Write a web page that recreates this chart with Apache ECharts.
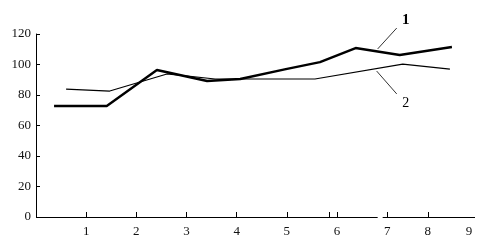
<!DOCTYPE html>
<html><head><meta charset="utf-8">
<script src="https://cdn.jsdelivr.net/npm/echarts@6/dist/echarts.min.js"></script>
<style>html,body{margin:0;padding:0;background:#fff}#c{width:484px;height:244px}</style>
</head><body><div id="c"></div>
<script>
// Curve 1 (thick)
const s1x = [0.36, 1.41, 2.41, 3.41, 4.07, 4.98, 5.66, 6.37, 7.25, 8.29];
const s1y = [72.8, 72.8, 96.4, 89.2, 90.5, 97.0, 101.6, 110.8, 106.2, 111.5];
// Curve 2 (thin)
const s2x = [0.60, 1.47, 2.61, 3.57, 5.56, 7.31, 8.25];
const s2y = [83.9, 82.6, 93.8, 90.5, 90.5, 100.3, 97.0];
// axis labels
const yTicks = [0, 20, 40, 60, 80, 100, 120];
const xLabels = ['1','2','3','4','5','6','7','8','9'];
const xLabelPos = [1, 2, 3, 4, 5, 6, 7, 7.81, 8.63];
const xTickPos = [1, 2, 3, 4, 5, 5.84, 6, 7, 7.81];
// curve annotations (data coordinates)
const ann1 = {text: '1', at: [7.37, 129.2], from: [6.81, 110.2], to: [7.19, 123.9], bold: true, size: 15};
const ann2 = {text: '2', at: [7.37, 74.8], from: [6.79, 95.7], to: [7.19, 80.7], bold: false, size: 14};

const font = '"Liberation Serif", "DejaVu Serif", serif';
const pts = (xs, ys) => xs.map((x, i) => [x, ys[i]]);

const chart = echarts.init(document.getElementById('c'), null, {renderer: 'canvas'});
chart.setOption({
  animation: false,
  backgroundColor: '#fff',
  grid: {left: 36, right: 9, top: 34, bottom: 27, containLabel: false},
  xAxis: {
    type: 'value', min: 0, max: 8.75,
    axisLine: {show: false},
    splitLine: {show: false},
    axisTick: {show: true, inside: true, length: 5, customValues: xTickPos, lineStyle: {color: '#000', width: 1}},
    axisLabel: {
      customValues: xLabelPos, margin: 8,
      fontFamily: font, fontSize: 13, color: '#111',
      formatter: v => { const i = xLabelPos.findIndex(p => Math.abs(p - v) < 1e-6); return i >= 0 ? xLabels[i] : ''; }
    }
  },
  yAxis: {
    type: 'value', min: 0, max: 120, interval: 20,
    axisLine: {show: true, lineStyle: {color: '#000', width: 1}},
    splitLine: {show: false},
    axisTick: {show: true, inside: true, length: 4, lineStyle: {color: '#000'}},
    axisLabel: {margin: 5, fontFamily: font, fontSize: 13, color: '#111',
      formatter: v => yTicks.includes(v) ? String(v) : ''}
  },
  series: [
    {
      type: 'line', data: pts(s1x, s1y), symbol: 'none', clip: false,
      lineStyle: {color: '#000', width: 2.4},
      markLine: {
        silent: true, symbol: 'none', label: {show: false},
        lineStyle: {color: '#000', width: 1, type: 'solid'},
        data: [
          [{coord: [0, 0]}, {coord: [6.81, 0]}],
          [{coord: [6.91, 0]}, {coord: [8.75, 0]}]
        ]
      }
    },
    {
      type: 'line', data: pts(s2x, s2y), symbol: 'none', clip: false,
      lineStyle: {color: '#000', width: 1.2}
    }
  ]
});

// annotations placed through the chart's own coordinate conversion
const g = [];
[ann1, ann2].forEach(a => {
  const p1 = chart.convertToPixel({gridIndex: 0}, a.from);
  const p2 = chart.convertToPixel({gridIndex: 0}, a.to);
  const pt = chart.convertToPixel({gridIndex: 0}, a.at);
  g.push({type: 'line', silent: true, shape: {x1: p1[0], y1: p1[1], x2: p2[0], y2: p2[1]},
          style: {stroke: '#000', lineWidth: 0.8}});
  g.push({type: 'text', silent: true, x: pt[0], y: pt[1],
          style: {text: a.text, fill: '#000', font: (a.bold ? 'bold ' : '') + a.size + 'px ' + font,
                  align: 'center', verticalAlign: 'middle'}});
});
chart.setOption({graphic: g});
</script>
</body></html>
